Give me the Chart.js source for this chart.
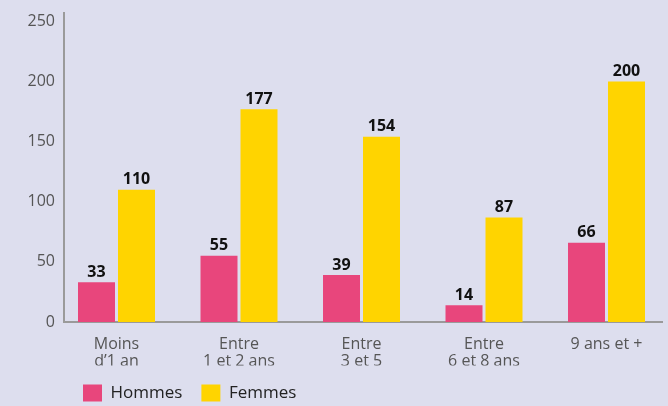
<!DOCTYPE html>
<html>
<head>
<meta charset="utf-8">
<script src="https://cdn.jsdelivr.net/npm/chart.js@4/dist/chart.umd.min.js"></script>
<style>
  html, body { margin: 0; padding: 0; background: #dddeee; }
  #c { display: block; }
</style>
</head>
<body>
<canvas id="c" width="668" height="406"></canvas>
<script>
const categories = [["Moins", "d’1 an"], ["Entre", "1 et 2 ans"], ["Entre", "3 et 5"], ["Entre", "6 et 8 ans"], "9 ans et +"];
const hommes = [33, 55, 39, 14, 66];
const femmes = [110, 177, 154, 87, 200];
const yTicks = [0, 50, 100, 150, 200, 250];

const FONT = "'Open Sans', 'DejaVu Sans', sans-serif";

// value labels above each bar
const valueLabels = {
  id: "valueLabels",
  afterDatasetsDraw(chart) {
    const ctx = chart.ctx;
    ctx.save();
    ctx.font = "bold 16px " + FONT;
    ctx.fillStyle = "#111";
    ctx.textAlign = "center";
    ctx.textBaseline = "bottom";
    chart.data.datasets.forEach((ds, i) => {
      chart.getDatasetMeta(i).data.forEach((bar, j) => {
        ctx.fillText(ds.data[j].y, bar.x, bar.y - 2);
      });
    });
    ctx.restore();
  }
};

new Chart(document.getElementById("c"), {
  type: "bar",
  data: {
    datasets: [
      { label: "Hommes", data: hommes.map((v, i) => ({ x: i, y: v })), backgroundColor: "#e8467c" },
      { label: "Femmes", data: femmes.map((v, i) => ({ x: i, y: v })), backgroundColor: "#ffd400" }
    ]
  },
  options: {
    responsive: false,
    animation: false,
    categoryPercentage: 0.653,
    barPercentage: 0.925,
    layout: { padding: { top: 13, right: 6, left: 0, bottom: -5.5 } },
    scales: {
      x: {
        type: "linear",
        offset: false,
        min: -0.4286,
        max: 4.453,
        grid: { display: false, drawTicks: false },
        border: { color: "#9a9a9a", width: 2 },
        afterFit: s => { s.height = 43.5; },
        ticks: {
          stepSize: 1,
          includeBounds: false,
          autoSkip: false,
          maxRotation: 0,
          padding: 14,
          color: "#555",
          font: { family: FONT, size: 16, lineHeight: 1.08 },
          callback: v => Number.isInteger(v) ? categories[v] : ""
        }
      },
      y: {
        min: 0,
        max: 257,
        grid: { display: false, drawTicks: false },
        border: { color: "#9a9a9a", width: 2 },
        afterFit: s => { s.width = 64; s.paddingTop = 0; s.paddingBottom = 0; },
        afterBuildTicks: s => { s.ticks = yTicks.map(v => ({ value: v })); },
        ticks: {
          padding: 9,
          color: "#555",
          font: { family: FONT, size: 16 }
        }
      }
    },
    plugins: {
      tooltip: { enabled: false },
      legend: {
        position: "bottom",
        align: "start",
        fullSize: false,
        labels: {
          boxWidth: 19,
          boxHeight: 17,
          padding: 19,
          color: "#222",
          font: { family: FONT, size: 17 }
        }
      }
    }
  },
  plugins: [valueLabels]
});
</script>
</body>
</html>
